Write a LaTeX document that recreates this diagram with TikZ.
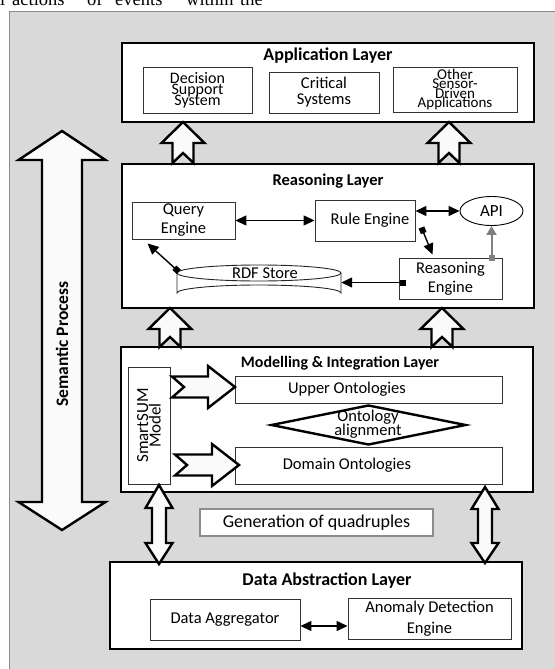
\documentclass[tikz,border=0pt]{standalone}
\usepackage{fontspec}
\setmainfont{Carlito}
\newfontfamily\topserif{Liberation Serif}
\usetikzlibrary{arrows.meta,shapes.geometric,calc}
\definecolor{bggray}{HTML}{D9D9D9}
\definecolor{bgline}{HTML}{8C8C8C}
\definecolor{arrfill}{HTML}{FAFAFA}
\newcommand\setfs[2]{\fontsize{#1}{#2}\selectfont\lineskiplimit=-50pt\relax}
\newcommand\blockup[3]{\draw[blk] (#1,#2) -- (#1+21.5,#2+21) -- (#1+10.5,#2+21) -- (#1+10.5,#3) -- (#1,#3-10) -- (#1-10.5,#3) -- (#1-10.5,#2+21) -- (#1-21.5,#2+21) -- cycle;}
\newcommand\blockright[5]{\draw[blk] (#1,#3-10.5) -- (#4,#3-10.5) -- (#4,#3-21) -- (#5,#3) -- (#4,#3+21) -- (#4,#3+10.5) -- (#1,#3+10.5) -- (#2,#3) -- cycle;}
\newcommand\blockdbl[7]{\draw[blk] (#1,#2) -- (#1+#7,#3) -- (#1+#6,#3) -- (#1+#6,#4) -- (#1+#7,#4) -- (#1,#5) -- (#1-#7,#4) -- (#1-#6,#4) -- (#1-#6,#3) -- (#1-#7,#3) -- cycle;}
\begin{document}
\begin{tikzpicture}[x=1pt,y=-1pt,
  lay/.style={draw=black,line width=1.2pt,fill=white,inner sep=0pt},
  sub/.style={draw=black!80,line width=0.9pt,fill=white,inner sep=0pt,align=center},
  blk/.style={draw=black,line width=2.4pt,fill=arrfill,line join=miter},
  ttl/.style={font=\bfseries\setfs{18}{20},anchor=base,inner sep=0pt},
  ttlb/.style={font=\bfseries\setfs{16.5}{18},anchor=base,inner sep=0pt},
  con/.style={line width=1.4pt,-{Triangle[length=11pt,width=10pt]}},
  con2/.style={line width=1.4pt,{Triangle[length=11pt,width=10pt]}-{Triangle[length=11pt,width=10pt]}},
  sqcon/.style={line width=1.4pt,{Square[length=6pt,width=6pt]}-{Triangle[length=11pt,width=10pt]}},
  every node/.style={font=\setfs{16.5}{19}}
]
\useasboundingbox (0,0) rectangle (554,669);
\fill[bggray] (9,12) rectangle (560,675);
\draw[bgline,line width=1pt] (9,675) -- (9,12) -- (560,12);

\node[anchor=base west,inner sep=0pt,font=\topserif\fontsize{18.5}{22}\selectfont] (toptext) at (0,6)
  {\makebox[12pt][l]{l}\makebox[75pt][l]{actions}\makebox[28pt][l]{of}\makebox[71pt][l]{events}\makebox[54pt][l]{within}the};

% Application layer
\node[lay,minimum width=412pt,minimum height=79pt] (app) at (328,82.5) {};
\node[ttl] (apptitle) at (328,61) {Application Layer};
\node[sub,minimum width=109pt,minimum height=46pt,font=\setfs{16}{11}] (dss) at (197.5,90) {Decision\\Support\\System};
\node[sub,minimum width=110pt,minimum height=41pt,font=\setfs{16.5}{16}] (crit) at (324,92.5) {Critical\\Systems};
\node[sub,minimum width=124pt,minimum height=45pt,font=\setfs{15}{9.5}] (other) at (455,89.5) {Other\\Sensor-\\Driven\\Applications};

% Reasoning layer
\node[lay,minimum width=412pt,minimum height=144pt] (reas) at (328,236) {};
\node[ttlb] (reastitle) at (328,185) {Reasoning Layer};
\node[sub,minimum width=103pt,minimum height=37pt] (query) at (183.5,220.5) {Query\\Engine};
\node[sub,minimum width=100pt,minimum height=41pt,label={[xshift=5pt]center:Rule Engine}] (rule) at (365,220.5) {};
\node[draw=black,line width=0.9pt,fill=white,ellipse,inner sep=0pt,minimum width=63pt,minimum height=29pt,font=\setfs{17}{19}] (api) at (491.5,211) {API};
\node[sub,minimum width=103pt,minimum height=41pt] (reng) at (450.5,278.5) {Reasoning\\Engine};
\path[fill=white] (177,273) -- (177,293) arc[start angle=180,end angle=360,x radius=82,y radius=8] -- (341,273) arc[start angle=0,end angle=180,x radius=82,y radius=8] -- cycle;
\draw[black!85,line width=0.9pt] (177,273) -- (177,293) arc[start angle=180,end angle=360,x radius=82,y radius=8] -- (341,273);
\draw[black!85,line width=0.9pt] (259,273) ellipse[x radius=82,y radius=8];
\node[inner sep=0pt,minimum width=164pt,minimum height=35pt] (rdf) at (259,282.5) {};
\node[inner sep=0pt,anchor=base] (rdftxt) at (265,278) {RDF Store};

\draw[con2] (query.east) -- (rule.west);
\draw[con2] (rule.east |- api.west) -- (api.west);
\draw[sqcon] ($(rule.east)+(6,7)$) -- ($(reng.north west)+(34,-3)$);
\draw[sqcon] ($(reng.west)+(7,4)$) -- (rdf.east);
\draw[gray,line width=2pt,{Square[length=6pt,width=6pt]}-{Triangle[length=9pt,width=10pt]}] ($(api.south |- reng.north)+(0,3)$) -- (api.south);
\draw[sqcon] ($(rdf.north west)+(2,7)$) -- ($(query.south west)+(16,4)$);

% Modelling layer
\node[lay,minimum width=412pt,minimum height=145pt] (mod) at (327,419.5) {};
\node[ttlb,font=\bfseries\setfs{16}{18}] (modtitle) at (340,367) {Modelling \& Integration Layer};
\node[sub,minimum width=42pt,minimum height=117pt,label={[rotate=90,align=center,font=\setfs{17}{12.5}]center:SmartSUM\\Model}] (smart) at (149,425.5) {};
\node[sub,minimum width=267pt,minimum height=27pt,label={[xshift=-21.5pt]center:Upper Ontologies}] (upper) at (368.5,389.5) {};
\node[sub,minimum width=267pt,minimum height=37pt,label={[xshift=-21.5pt]center:Domain Ontologies}] (domain) at (368.5,465.5) {};
\node[diamond,draw=black,line width=2.4pt,inner sep=0pt,minimum width=195pt,minimum height=40pt] (ontoal) at (368.5,425) {};
\node[align=center,inner sep=0pt,font=\setfs{16.5}{14}] (ontotxt) at (368,424) {Ontology\\alignment};
\blockright{172}{184}{387}{208}{235}
\blockright{175}{187}{465}{212}{239}

% Generation
\node[sub,draw=black!45,line width=1.2pt,minimum width=233pt,minimum height=27pt,font=\setfs{18}{20}] (gen) at (316.5,522.5) {Generation of quadruples};

% Data abstraction layer
\node[lay,minimum width=412pt,minimum height=87pt] (data) at (316,605.5) {};
\node[ttl] (datatitle) at (327,585) {Data Abstraction Layer};
\node[sub,minimum width=150pt,minimum height=41pt] (agg) at (225,619.5) {Data Aggregator};
\node[sub,minimum width=163pt,minimum height=41pt,font=\setfs{16.5}{21}] (anom) at (429.5,618.5) {Anomaly Detection\\Engine};
\draw[con2] ($(agg.east)+(0,6.5)$) -- ($(anom.west)+(0,7.5)$);

% block arrows
\blockup{183}{122}{163}
\blockup{449}{122}{163}
\blockup{170}{308}{347}
\blockup{442}{308}{347}
\blockdbl{62}{131}{160}{502}{530}{20}{43.5}
\blockdbl{159}{485}{508}{543}{564}{7}{13.5}
\blockdbl{485}{487}{509}{543}{563}{7}{13.5}
\node[rotate=90,font=\bfseries\setfs{17.5}{20}] (sem) at (62,344) {Semantic Process};
\end{tikzpicture}
\end{document}
